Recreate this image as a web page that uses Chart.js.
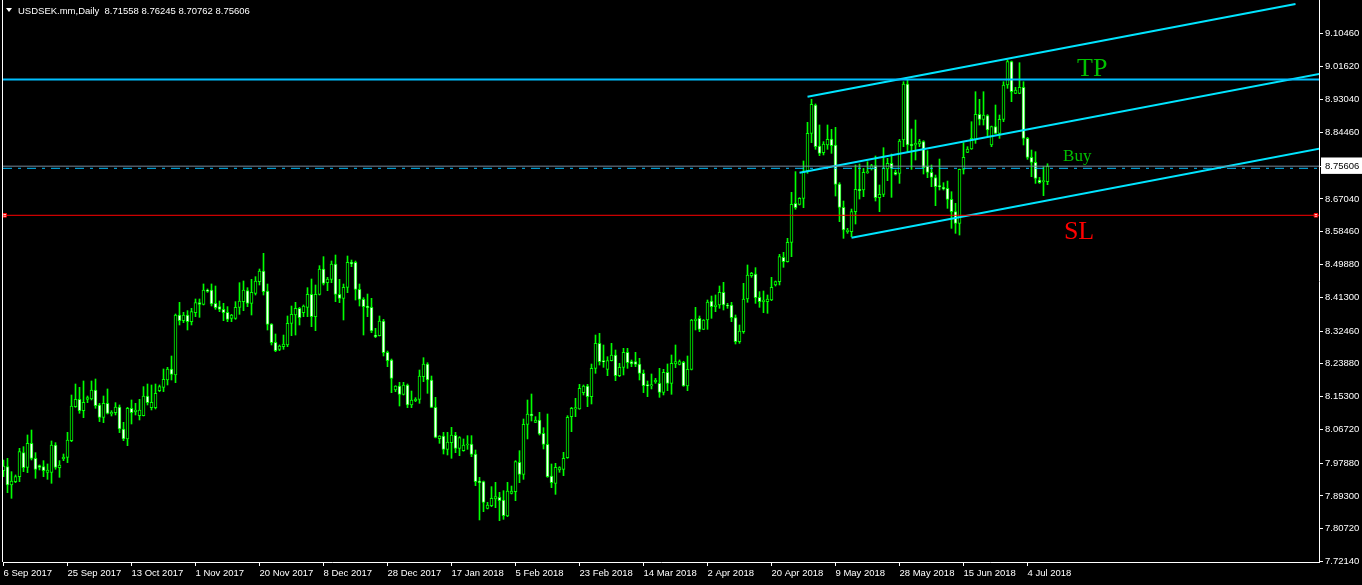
<!DOCTYPE html>
<html>
<head>
<meta charset="utf-8">
<script src="https://cdn.jsdelivr.net/npm/chart.js@4.4.1/dist/chart.umd.min.js"></script>
<style>
  html, body { margin: 0; padding: 0; background: #000; overflow: hidden; }
  #wrap { width: 1362px; height: 585px; position: relative; }
</style>
</head>
<body>
<div id="wrap"><canvas id="chart" width="1362" height="585"></canvas></div>
<script>
// USDSEK daily candles, 6 Sep 2017 .. 10 Jul 2018 (one entry per trading bar)
const symbolTitle = 'USDSEK.mm,Daily';

const opens = [
  7.9592,7.9697,7.9217,7.9304,7.9435,8.0063,7.9679,8.0308,7.9915,7.9723,7.9697,7.9549,7.9549,8.0264,7.9671,7.9906,7.9941,8.0377,8.1267,8.1459,
  8.1162,8.1459,8.1468,8.1703,8.1311,8.0988,8.1354,8.1075,8.1110,8.1258,8.0683,8.0421,8.1224,8.1136,8.1032,8.1032,8.1546,8.1241,8.1241,8.1686,
  8.1773,8.1965,8.2253,8.2096,8.3666,8.3518,8.3666,8.3492,8.3727,8.3989,8.3945,8.4321,8.4321,8.3971,8.3884,8.3814,8.3736,8.3579,8.3579,8.3866,
  8.4015,8.4303,8.3971,8.4233,8.4538,8.4817,8.4294,8.3430,8.2950,8.2767,8.2837,8.2881,8.3448,8.3666,8.3840,8.3727,8.3866,8.4207,8.3622,8.4207,
  8.4870,8.4512,8.4599,8.5001,8.4207,8.4102,8.4390,8.5044,8.5044,8.4338,8.4076,8.3901,8.3866,8.3142,8.3125,8.3509,8.2689,8.2488,8.1703,8.1808,
  8.1590,8.1834,8.1310,8.1424,8.1459,8.2052,8.2383,8.1965,8.1249,8.0429,8.0499,8.0150,8.0325,8.0517,8.0176,8.0115,8.0263,8.0290,8.0028,7.9321,
  7.9304,7.8606,7.8676,7.8850,7.8894,7.8824,7.8405,7.8999,7.9042,7.9810,7.9496,8.0804,8.1075,8.0857,8.0918,8.0569,8.0281,7.9452,7.9260,7.9609,
  7.9627,7.9932,8.1005,8.1206,8.1206,8.1633,8.1808,8.1528,8.2270,8.2924,8.2471,8.2244,8.2471,8.2619,8.2078,8.2296,8.2689,8.2445,8.2445,8.2384,
  8.2140,8.1843,8.1808,8.1913,8.1878,8.1642,8.2166,8.1878,8.2384,8.2375,8.2427,8.1808,8.2244,8.3518,8.3579,8.3291,8.3535,8.4033,8.3884,8.3927,
  8.4259,8.3927,8.3927,8.3596,8.2968,8.3230,8.4085,8.4696,8.4739,8.4129,8.4015,8.4015,8.4059,8.4451,8.4539,8.5176,8.5062,8.5568,8.6589,8.6563,
  8.6720,8.7435,8.8421,8.9162,8.8089,8.7915,8.8115,8.8272,8.8115,8.7094,8.6483,8.5846,8.5846,8.6370,8.6954,8.6937,8.7391,8.7487,8.7574,8.6736,
  8.6824,8.7487,8.7635,8.7399,8.7373,8.8246,8.9711,8.8132,8.8115,8.8141,8.8202,8.7565,8.7399,8.7260,8.7050,8.7007,8.6981,8.6693,8.6370,8.6065,
  8.7478,8.7923,8.8010,8.8246,8.8917,8.8786,8.8882,8.8115,8.8594,8.8420,8.8786,8.9685,9.0296,8.9467,8.9467,8.9624,8.8289,8.7792,8.7661,8.7199,
  8.7155,8.71558
];
const highs = [
  7.9871,7.9915,7.9566,7.9479,8.0177,8.0220,8.0526,8.0656,8.0063,7.9740,7.9854,7.9767,8.0369,8.0325,7.9854,8.0028,8.0595,8.1572,8.1860,8.1773,
  8.1939,8.1546,8.1939,8.1991,8.1354,8.1546,8.1730,8.1162,8.1372,8.1311,8.0857,8.1250,8.1442,8.1354,8.1459,8.1791,8.1860,8.1834,8.1860,8.1834,
  8.2253,8.2297,8.2593,8.3692,8.3998,8.3736,8.3780,8.3841,8.4085,8.4085,8.4478,8.4347,8.4478,8.4425,8.4032,8.3971,8.3884,8.3683,8.4015,8.4512,
  8.4556,8.4381,8.4599,8.4669,8.4870,8.5280,8.4477,8.3440,8.3169,8.2881,8.3142,8.3640,8.3901,8.3997,8.3866,8.3928,8.4381,8.4608,8.4451,8.4957,
  8.5193,8.4652,8.5079,8.5236,8.4599,8.4477,8.5210,8.5105,8.5079,8.4477,8.4119,8.4215,8.4102,8.3317,8.3640,8.3552,8.2724,8.2514,8.1816,8.1904,
  8.1904,8.1860,8.1677,8.1502,8.2226,8.2549,8.2418,8.2069,8.1511,8.0508,8.0595,8.0595,8.0726,8.0595,8.0482,8.0421,8.0508,8.0508,8.0133,7.9417,
  7.9321,7.8763,7.9173,7.9286,7.9025,7.9068,7.9286,7.9190,7.9853,8.0115,8.0944,8.1441,8.1598,8.1005,8.1118,8.0717,8.1075,7.9766,7.9784,7.9696,
  8.0072,8.1031,8.1249,8.1485,8.1851,8.1834,8.1851,8.2383,8.3142,8.3186,8.2881,8.2575,8.2924,8.2750,8.2401,8.2793,8.2793,8.2489,8.2689,8.2532,
  8.2227,8.1939,8.2122,8.2009,8.2270,8.2244,8.2384,8.2619,8.2881,8.2489,8.2455,8.2593,8.3553,8.3867,8.3640,8.3545,8.4059,8.4163,8.4190,8.4425,
  8.4521,8.3971,8.3998,8.3666,8.3404,8.4494,8.4975,8.4783,8.4905,8.4277,8.4294,8.4190,8.4652,8.4556,8.5254,8.5306,8.5673,8.6877,8.7418,8.6737,
  8.7697,8.8709,8.9311,8.9190,8.8639,8.8203,8.8639,8.8525,8.8577,8.7129,8.6649,8.5934,8.6440,8.7591,8.7617,8.7504,8.7678,8.7609,8.7827,8.7068,
  8.8045,8.7766,8.7879,8.7460,8.8263,8.9772,8.9833,8.8533,8.8769,8.8263,8.8228,8.7966,8.7591,8.7329,8.7748,8.7129,8.7172,8.6893,8.6588,8.7487,
  8.8176,8.8071,8.8725,8.9510,8.9310,8.9510,8.8910,8.8612,8.9162,8.8900,8.9772,9.0339,9.0313,8.9624,9.0269,8.9772,8.8315,8.7984,8.7940,8.7268,
  8.7548,8.76245
];
const lows = [
  7.9435,7.9016,7.8868,7.9278,7.9304,7.9566,7.9540,7.9871,7.9391,7.9610,7.9435,7.9365,7.9261,7.9627,7.9418,7.9854,7.9802,8.0351,8.1250,8.1093,
  8.0979,8.1372,8.1442,8.1224,8.0875,8.0848,8.1075,8.1023,8.1049,8.0587,8.0377,8.0246,8.0813,8.1049,8.0918,8.1023,8.1311,8.1180,8.1206,8.1660,
  8.1660,8.1834,8.1965,8.1895,8.3405,8.3466,8.3274,8.3405,8.3623,8.3605,8.3928,8.4259,8.3902,8.3814,8.3753,8.3518,8.3491,8.3491,8.3552,8.3683,
  8.3779,8.3884,8.3666,8.4189,8.4451,8.4189,8.3273,8.2881,8.2706,8.2732,8.2767,8.2837,8.3125,8.3142,8.3404,8.3622,8.3622,8.3360,8.3256,8.4189,
  8.4451,8.4303,8.4512,8.4015,8.3989,8.3535,8.4250,8.4931,8.4058,8.3901,8.3142,8.3622,8.3203,8.3073,8.3116,8.2593,8.2314,8.1633,8.1659,8.1284,
  8.1572,8.1241,8.1241,8.1398,8.1354,8.1921,8.1616,8.1240,8.0450,8.0307,8.0028,8.0002,7.9915,8.0063,7.9984,8.0100,8.0150,7.9958,7.9199,7.8301,
  7.8519,7.8589,7.8650,7.8623,7.8283,7.8318,7.8388,7.8981,7.8807,7.9278,7.9365,8.0421,8.0892,8.0848,8.0525,8.0159,7.9417,7.9147,7.8972,7.9548,
  7.9461,7.9915,8.0612,8.1005,8.1197,8.1572,8.1267,8.1337,8.2139,8.2357,8.2296,8.2078,8.2462,8.1947,8.2052,8.2096,8.2270,8.2314,8.2314,8.1965,
  8.1634,8.1529,8.1730,8.1878,8.1511,8.1573,8.1686,8.1590,8.2288,8.2358,8.1800,8.1686,8.2227,8.3274,8.3230,8.3281,8.3291,8.3579,8.3753,8.3841,
  8.3797,8.3841,8.3491,8.2907,8.2924,8.3186,8.3998,8.4652,8.3971,8.3867,8.3727,8.3710,8.4041,8.4425,8.4451,8.4914,8.5050,8.5193,8.6432,8.6545,
  8.6475,8.7374,8.8177,8.8002,8.7836,8.7854,8.8002,8.7897,8.6780,8.6108,8.5672,8.5803,8.5716,8.6047,8.6701,8.6762,8.7373,8.7460,8.6649,8.6370,
  8.6762,8.7181,8.6745,8.7329,8.7111,8.8071,8.7940,8.7478,8.7722,8.8071,8.7356,8.7260,8.7024,8.6527,8.6937,8.6937,8.6457,8.5934,8.5803,8.5759,
  8.7356,8.7914,8.8000,8.8158,8.8638,8.8638,8.8350,8.8071,8.8410,8.8289,8.8725,8.9598,8.9249,8.9457,8.9457,8.8115,8.7740,8.7286,8.7111,8.7111,
  8.6789,8.70762
];
const closes = [
  7.9714,7.9217,7.9322,7.9435,8.0089,7.9671,8.0308,7.9915,7.9627,7.9679,7.9592,7.9610,8.0264,7.9679,7.9740,7.9941,8.0395,8.1285,8.1459,8.1162,
  8.1381,8.1503,8.1703,8.1293,8.0988,8.1354,8.1093,8.1119,8.1258,8.0683,8.0421,8.1224,8.1110,8.1180,8.1180,8.1546,8.1372,8.1381,8.1616,8.1791,
  8.1983,8.2253,8.2113,8.3666,8.3518,8.3666,8.3492,8.3753,8.3989,8.3945,8.4321,8.4286,8.3954,8.3858,8.3814,8.3727,8.3552,8.3666,8.3866,8.4032,
  8.4320,8.3971,8.4259,8.4556,8.4817,8.4276,8.3422,8.2942,8.2732,8.2854,8.2907,8.3448,8.3683,8.3840,8.3596,8.3901,8.4207,8.3622,8.4207,8.4870,
  8.4495,8.4608,8.5001,8.4207,8.4102,8.4390,8.5044,8.5001,8.4338,8.4076,8.3884,8.3858,8.3247,8.3099,8.3509,8.2680,8.2471,8.2008,8.1808,8.1590,
  8.1834,8.1310,8.1441,8.1459,8.2069,8.2383,8.1965,8.1249,8.0464,8.0499,8.0150,8.0342,8.0525,8.0176,8.0455,8.0263,8.0290,8.0019,7.9304,7.9278,
  7.8763,7.8693,7.8868,7.8911,7.8807,7.8414,7.9060,7.9060,7.9827,7.9496,8.0804,8.1075,8.1031,8.0918,8.0551,8.0281,7.9435,7.9278,7.9679,7.9670,
  7.9915,8.0988,8.1223,8.1241,8.1747,8.1808,8.1528,8.2270,8.2924,8.2444,8.2436,8.2471,8.2619,8.2078,8.2296,8.2689,8.2418,8.2384,8.2375,8.2140,
  8.1817,8.1808,8.1843,8.1965,8.1642,8.2166,8.1878,8.2401,8.2445,8.2445,8.1808,8.2244,8.3535,8.3562,8.3291,8.3535,8.4007,8.3884,8.3927,8.4259,
  8.3927,8.3901,8.3596,8.2968,8.3247,8.4085,8.4713,8.4757,8.4120,8.4015,8.4059,8.4085,8.4390,8.4539,8.5193,8.5062,8.5568,8.6563,8.6475,8.6720,
  8.7435,8.8421,8.9180,8.8072,8.7897,8.8141,8.8264,8.8098,8.7085,8.6483,8.5890,8.5890,8.6370,8.6954,8.6919,8.7399,8.7417,8.7574,8.6736,8.6824,
  8.7504,8.7635,8.7504,8.7347,8.8219,8.9711,8.8115,8.8097,8.8158,8.8202,8.7521,8.7399,8.7268,8.7024,8.7024,8.6963,8.6693,8.6370,8.6065,8.7478,
  8.7792,8.8010,8.8289,8.8917,8.8786,8.8900,8.8507,8.8594,8.8420,8.8786,8.9685,9.0296,8.9510,8.9554,8.9624,8.8289,8.7792,8.7661,8.7242,8.7129,
  8.7172,8.75606
];

// time axis: one label every 16 bars, starting at the first bar
const dateTicks = ['6 Sep 2017','25 Sep 2017','13 Oct 2017','1 Nov 2017','20 Nov 2017','8 Dec 2017','28 Dec 2017',
  '17 Jan 2018','5 Feb 2018','23 Feb 2018','14 Mar 2018','2 Apr 2018','20 Apr 2018','9 May 2018','28 May 2018',
  '15 Jun 2018','4 Jul 2018'];
const barsPerDateTick = 16;

// price axis labels
const priceTicks = [9.10460, 9.01620, 8.93040, 8.84460, 8.67040, 8.58460, 8.49880, 8.41300, 8.32460,
  8.23880, 8.15300, 8.06720, 7.97880, 7.89300, 7.80720, 7.72140];
const bidPrice = 8.75606;

// trade levels
const tpPrice = 8.9829;
const buyPrice = 8.7505;
const slPrice = 8.6275;

// rising channel: [bar, price] anchor pairs
const channelUpper = [[201, 8.9379], [323, 9.1807]];
const channelMiddle = [[199, 8.7390], [340, 9.0196]];
const channelLower = [[212, 8.5689], [340, 8.8236]];

// text objects: [text, bar, baseline price]
const labelTP = ['TP', 268.4, 8.9921];
const labelBuy = ['Buy', 264.9, 8.7696];
const labelSL = ['SL', 265.1, 8.5655];

const X_MIN = -0.125, X_MAX = 328.875;
const Y_MIN = 7.72013, Y_MAX = 9.1910;

const LIME = '#00ff00';
const FONT_FAMILY = "'Liberation Sans', Arial, sans-serif";
const axisFont = { family: FONT_FAMILY, size: 9.5 };

const wickData = highs.map((h, i) => ({ x: i, y: [lows[i], h] }));
const bodyData = opens.map((o, i) => ({ x: i, y: [o, closes[i]] }));
const bodyFill = opens.map((o, i) => (closes[i] >= o ? '#000000' : '#ffffff'));

const hLine = (p) => [{ x: X_MIN, y: p }, { x: X_MAX, y: p }];
const seg = (pts) => pts.map(([x, y]) => ({ x, y }));

const lineDefaults = { type: 'line', pointRadius: 0, tension: 0, fill: false, clip: 0, order: 0 };

// frame, header text and chart objects drawn on top of the series
const overlayPlugin = {
  id: 'overlay',
  afterDatasetsDraw(chart) {
    const { ctx, chartArea: a, scales } = chart;
    ctx.save();
    // left frame edge
    ctx.strokeStyle = '#ffffff';
    ctx.lineWidth = 1;
    ctx.beginPath();
    ctx.moveTo(a.left - 0.5, a.top);
    ctx.lineTo(a.left - 0.5, a.bottom);
    ctx.stroke();

    // header: symbol, period and last bar OHLC
    const last = opens.length - 1;
    ctx.fillStyle = '#ffffff';
    ctx.beginPath();
    ctx.moveTo(6, 8); ctx.lineTo(12, 8); ctx.lineTo(9, 12); ctx.closePath();
    ctx.fill();
    ctx.font = '9.5px ' + FONT_FAMILY;
    ctx.textBaseline = 'alphabetic';
    ctx.textAlign = 'left';
    const hdr = symbolTitle + '  ' + [opens[last], highs[last], lows[last], closes[last]].map(v => v.toFixed(5)).join(' ');
    ctx.fillText(hdr, 18, 14);

    // text objects
    ctx.beginPath();
    ctx.rect(a.left, a.top, a.right - a.left, a.bottom - a.top);
    ctx.clip();
    const drawLabel = (lab, color, size) => {
      ctx.font = size + "px 'Liberation Serif', 'Times New Roman', serif";
      ctx.fillStyle = color;
      ctx.fillText(lab[0], scales.x.getPixelForValue(lab[1]), scales.y.getPixelForValue(lab[2]));
    };
    drawLabel(labelTP, '#00c000', 26);
    drawLabel(labelBuy, '#00c000', 17);
    drawLabel(labelSL, '#ff0000', 26);
    ctx.restore();
  }
};

new Chart(document.getElementById('chart'), {
  type: 'bar',
  data: {
    datasets: [
      { ...lineDefaults, label: 'bid', data: hLine(bidPrice), borderColor: '#778899', borderWidth: 1 },
      { ...lineDefaults, label: 'TP', data: hLine(tpPrice), borderColor: '#00bfff', borderWidth: 2 },
      { ...lineDefaults, label: 'Buy', data: hLine(buyPrice), borderColor: '#00bfff', borderWidth: 1, borderDash: [9, 6, 3, 6] },
      { ...lineDefaults, label: 'SL', data: hLine(slPrice), borderColor: '#ff0000', borderWidth: 1 },
      { ...lineDefaults, label: 'SL handles', data: hLine(slPrice).map((p, k) => ({ x: k ? 328.1 : 0.3, y: p.y })),
        showLine: false, pointRadius: 2.5, pointStyle: 'rect', pointBackgroundColor: '#ffffff', pointBorderColor: '#ff0000', pointBorderWidth: 1 },
      { ...lineDefaults, label: 'channel upper', data: seg(channelUpper), borderColor: '#00e5ff', borderWidth: 2 },
      { ...lineDefaults, label: 'channel middle', data: seg(channelMiddle), borderColor: '#00e5ff', borderWidth: 2 },
      { ...lineDefaults, label: 'channel lower', data: seg(channelLower), borderColor: '#00e5ff', borderWidth: 2 },
      { label: 'bodies', data: bodyData, backgroundColor: bodyFill, borderColor: LIME, borderWidth: 1,
        borderSkipped: false, barThickness: 3, minBarLength: 1, grouped: false, order: 1, clip: 0 },
      { label: 'wicks', data: wickData, backgroundColor: LIME, borderWidth: 0,
        barThickness: 1, minBarLength: 1, grouped: false, order: 2, clip: 0 }
    ]
  },
  options: {
    responsive: false,
    animation: false,
    events: [],
    devicePixelRatio: 1,
    layout: { autoPadding: false, padding: { left: 3, top: 0, right: 0, bottom: 0 } },
    plugins: { legend: { display: false }, tooltip: { enabled: false } },
    scales: {
      x: {
        type: 'linear', position: 'bottom', min: X_MIN, max: X_MAX, offset: false,
        afterFit(s) { s.height = 23; s.paddingLeft = 0; s.paddingRight = 0; },
        afterBuildTicks(s) { s.ticks = dateTicks.map((_, k) => ({ value: k * barsPerDateTick })); },
        ticks: {
          callback: (v) => dateTicks[Math.round(v / barsPerDateTick)],
          color: '#ffffff', font: axisFont, align: 'start', maxRotation: 0, autoSkip: false, padding: 2
        },
        grid: { drawOnChartArea: false, drawTicks: true, tickLength: 4, color: '#ffffff', offset: false },
        border: { color: '#ffffff', width: 1 }
      },
      y: {
        type: 'linear', position: 'right', min: Y_MIN, max: Y_MAX,
        afterFit(s) { s.width = 43; s.paddingTop = 0; s.paddingBottom = 0; },
        afterBuildTicks(s) {
          s.ticks = [...priceTicks, bidPrice].sort((a, b) => a - b).map(v => ({ value: v }));
        },
        ticks: {
          callback: (v) => v.toFixed(5),
          color: (c) => (c.tick && c.tick.value === bidPrice ? '#000000' : '#ffffff'),
          showLabelBackdrop: (c) => !!(c.tick && c.tick.value === bidPrice),
          backdropColor: '#ffffff',
          backdropPadding: { left: 4, right: 6, top: 3, bottom: 2 },
          font: axisFont, padding: 2, autoSkip: false
        },
        grid: { drawOnChartArea: false, drawTicks: true, tickLength: 4, color: '#ffffff' },
        border: { color: '#ffffff', width: 1 }
      }
    }
  },
  plugins: [overlayPlugin]
});
</script>
</body>
</html>
